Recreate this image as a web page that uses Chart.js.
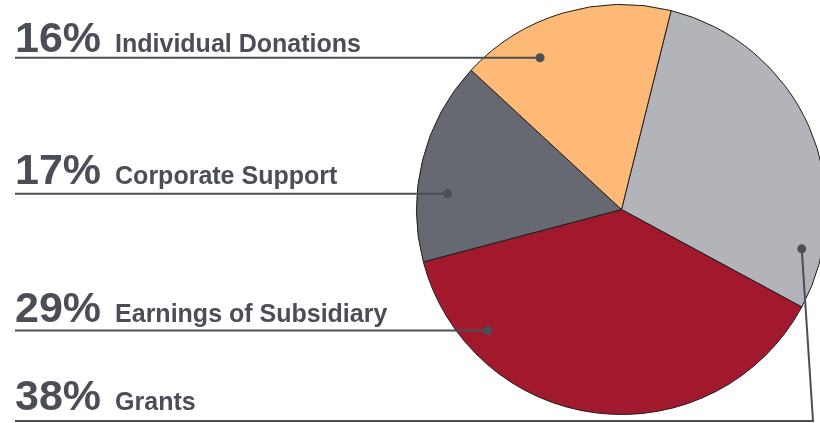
<!DOCTYPE html>
<html>
<head>
<meta charset="utf-8">
<script src="https://cdn.jsdelivr.net/npm/chart.js@4"></script>
<style>
  html, body { margin: 0; padding: 0; background: #fff; overflow: hidden; }
  #wrap { width: 828px; height: 423px; position: relative; }
</style>
</head>
<body>
<div id="wrap"><canvas id="pie"></canvas></div>
<script>
// slices, clockwise from the top, as they are drawn in the picture
const sliceNames = ['Grants', 'Earnings of Subsidiary', 'Corporate Support', 'Individual Donations']
const sliceValues = [29, 38, 16, 17]
const sliceColors = ['#b3b4b9', '#a2192e', '#666971', '#fdb975']

// callout texts, top to bottom, as printed
const calloutNames = ['Individual Donations', 'Corporate Support', 'Earnings of Subsidiary', 'Grants']
const calloutPercents = ['16%', '17%', '29%', '38%']

// where each callout's dot sits (slice index, fraction along the arc, fraction of radius)
const calloutLayout = [
  { slice: 3, at: 0.31, r: 0.84, gap: 6 },
  { slice: 2, at: 0.347, r: 0.852, gap: 10 },
  { slice: 1, at: 0.80, r: 0.88, gap: 9 },
  { slice: 0, at: 0.846, r: 0.90, gap: 11, lineY: 421, elbowX: 813 }
]

const ink = '#4b4e57'

const callouts = {
  id: 'callouts',
  afterDraw(chart) {
    const ctx = chart.ctx
    const meta = chart.getDatasetMeta(0)
    ctx.save()
    calloutLayout.forEach((c, i) => {
      const arc = meta.data[c.slice]
      const p = arc.getProps(['x', 'y', 'startAngle', 'endAngle', 'outerRadius'])
      const a = p.startAngle + c.at * (p.endAngle - p.startAngle)
      const dx = p.x + Math.cos(a) * p.outerRadius * c.r
      const dy = p.y + Math.sin(a) * p.outerRadius * c.r
      const ly = c.lineY !== undefined ? c.lineY : dy

      ctx.strokeStyle = ink
      ctx.lineWidth = 2
      ctx.beginPath()
      ctx.moveTo(15, ly)
      if (c.elbowX !== undefined) {
        ctx.lineTo(c.elbowX, ly)
        ctx.lineTo(dx, dy)
      } else {
        ctx.lineTo(dx, dy)
      }
      ctx.stroke()

      ctx.fillStyle = ink
      ctx.beginPath()
      ctx.arc(dx, dy, 4.5, 0, Math.PI * 2)
      ctx.fill()

      const base = ly - c.gap
      ctx.textBaseline = 'alphabetic'
      ctx.textAlign = 'left'
      ctx.font = 'bold 43px "Liberation Sans", Arial, sans-serif'
      ctx.fillText(calloutPercents[i], 15, base)
      const w = ctx.measureText(calloutPercents[i]).width
      ctx.font = 'bold 25px "Liberation Sans", Arial, sans-serif'
      ctx.fillText(calloutNames[i], 15 + w + 14, base)
    })
    ctx.restore()
  }
}

new Chart(document.getElementById('pie'), {
  type: 'pie',
  data: {
    labels: sliceNames,
    datasets: [{
      data: sliceValues,
      backgroundColor: sliceColors,
      borderColor: '#1e1e1e',
      borderWidth: 1
    }]
  },
  options: {
    responsive: true,
    maintainAspectRatio: false,
    animation: false,
    rotation: 14,
    layout: { padding: { left: 416, right: 1, top: 4, bottom: 8 } },
    plugins: {
      legend: { display: false },
      tooltip: { enabled: false }
    }
  },
  plugins: [callouts]
})
</script>
</body>
</html>
